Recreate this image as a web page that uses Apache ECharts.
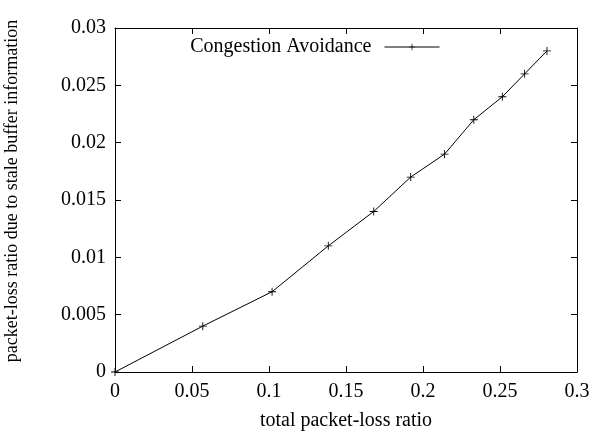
<!DOCTYPE html>
<html><head><meta charset="utf-8">
<script src="https://cdn.jsdelivr.net/npm/echarts@6/dist/echarts.min.js"></script>
<style>html,body{margin:0;padding:0;background:#fff}#c{width:600px;height:437px}</style>
</head><body><div id="c"></div>
<script>
var seriesName = 'Congestion Avoidance';
var totalLoss = [0, 0.057, 0.102, 0.1385, 0.168, 0.192, 0.214, 0.233, 0.2515, 0.266, 0.2805];
var staleLoss = [0, 0.004, 0.007, 0.011, 0.014, 0.017, 0.019, 0.022, 0.024, 0.026, 0.028];
var xTicks = [0, 0.05, 0.1, 0.15, 0.2, 0.25, 0.3];
var yTicks = [0, 0.005, 0.01, 0.015, 0.02, 0.025, 0.03];

var font = 'Liberation Serif';
var fs = 20;
var plus = 'path://M4.45,0H5.55V4.45H10V5.55H5.55V10H4.45V5.55H0V4.45H4.45Z';
var data = totalLoss.map(function(x, i){ return [x, staleLoss[i]]; });
var chart = echarts.init(document.getElementById('c'), null, {renderer:'canvas'});
function axisCommon(){
  return {
    axisLine:{show:true, onZero:false, lineStyle:{color:'#000', width:1}},
    axisTick:{show:true, inside:true, length:6, lineStyle:{color:'#000'}},
    splitLine:{show:false},
    axisLabel:{color:'#000', fontFamily:font, fontSize:fs}
  };
}
var xa = axisCommon();
xa.type='value'; xa.min=0; xa.max=0.3; xa.interval=0.05;
xa.axisLabel.margin=10;
xa.axisLabel.formatter=function(v){ var t = xTicks.find(function(k){return Math.abs(k-v)<1e-9;}); return t===undefined?'':String(t); };
xa.name='total packet-loss ratio'; xa.nameLocation='middle'; xa.nameGap=39;
xa.nameTextStyle={color:'#000', fontFamily:font, fontSize:fs};
var xa2 = axisCommon(); xa2.type='value'; xa2.min=0; xa2.max=0.3; xa2.interval=0.05; xa2.position='top'; xa2.axisLabel={show:false};
var ya = axisCommon();
ya.type='value'; ya.min=0; ya.max=0.03; ya.interval=0.005;
ya.axisLabel.margin=9;
ya.axisLabel.formatter=function(v){ var t = yTicks.find(function(k){return Math.abs(k-v)<1e-9;}); return t===undefined?'':String(t); };
ya.name='packet-loss ratio due to stale buffer information'; ya.nameLocation='middle'; ya.nameGap=94;
ya.nameTextStyle={color:'#000', fontFamily:font, fontSize:18, padding:[0,0,0,18]};
var ya2 = axisCommon(); ya2.type='value'; ya2.min=0; ya2.max=0.03; ya2.interval=0.005; ya2.position='right'; ya2.axisLabel={show:false};

chart.setOption({
  animation:false,
  backgroundColor:'#fff',
  grid:{left:115, top:28, right:23, bottom:65, containLabel:false, outerBoundsMode:'none'},
  legend:{show:true, right:155, top:32, align:'right', itemWidth:55, itemHeight:8, itemGap:10,
    lineStyle:{width:1},
    textStyle:{color:'#000', fontFamily:font, fontSize:fs, padding:[0,8,0,0]}, data:[seriesName]},
  xAxis:[xa, xa2],
  yAxis:[ya, ya2],
  series:[{
    name:seriesName, type:'line', xAxisIndex:0, yAxisIndex:0, data:data,
    symbol:plus, symbolSize:8, showAllSymbol:true,
    lineStyle:{color:'#000', width:1},
    itemStyle:{color:'#000'}
  }]
});
</script></body></html>
